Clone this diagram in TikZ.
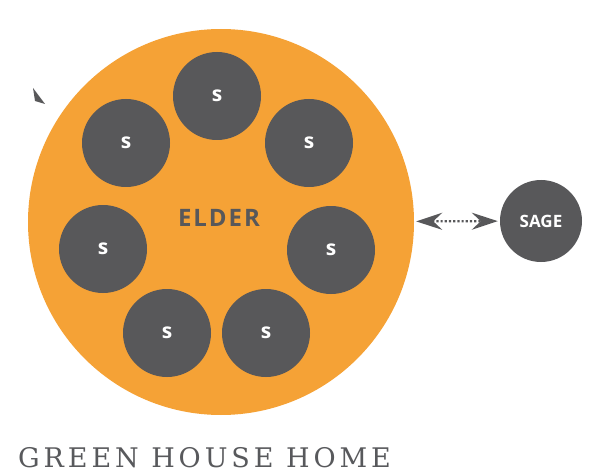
\documentclass[tikz,border=0pt]{standalone}
\usepackage{fontspec}
\setmainfont{Liberation Serif}
\newfontfamily\labelfont{Open Sans}
\newfontfamily\elderfont[LetterSpace=8]{Open Sans}
\newfontfamily\titlefont[LetterSpace=14.5]{DejaVu Serif}
\usetikzlibrary{arrows.meta}
\definecolor{elderorange}{HTML}{F5A236}
\definecolor{darkgrey}{HTML}{58585A}
\definecolor{titlegrey}{HTML}{58595C}
\tikzset{
  elder/.style={circle, fill=elderorange, minimum size=386pt, inner sep=0pt},
  resident/.style={circle, fill=darkgrey, minimum size=88pt, inner sep=0pt,
    text=white, font=\labelfont\bfseries\fontsize{21}{21}\selectfont},
  sagebox/.style={circle, fill=darkgrey, minimum size=82pt, inner sep=0pt,
    text=white, font=\labelfont\bfseries\fontsize{17}{17}\selectfont},
  link/.style={draw=darkgrey, line width=2.2pt, dotted,
    {Stealth[length=26pt,width=17pt,inset=9pt]}-{Stealth[length=26pt,width=17pt,inset=9pt]}},
}
\begin{document}
\begin{tikzpicture}[x=1pt,y=-1pt]
\useasboundingbox (0,0) rectangle (600,476);
\node[elder] (big) at (221,222) {};
\node[font=\elderfont\bfseries\fontsize{24}{24}\selectfont, text=darkgrey] (eldertext) at (219,218) {ELDER};
\node[resident] (s1) at (217,96) {s};
\node[resident] (s2) at (309,143) {s};
\node[resident] (s3) at (126,143) {s};
\node[resident] (s4) at (103,249) {s};
\node[resident] (s5) at (331,250) {s};
\node[resident] (s6) at (167,333) {s};
\node[resident] (s7) at (266,333) {s};
\node[sagebox] (sage) at (541,221) {SAGE};
\draw[link, shorten <=2pt, shorten >=2pt] (big) -- (sage);
\fill[darkgrey] (33,88) -- (35,101) -- (45,104) -- cycle;
\node[anchor=base west, inner sep=0pt, text=titlegrey, font=\titlefont\fontsize{27}{27}\selectfont] (title) at (18,467) {GREEN HOUSE HOME};
\end{tikzpicture}
\end{document}
